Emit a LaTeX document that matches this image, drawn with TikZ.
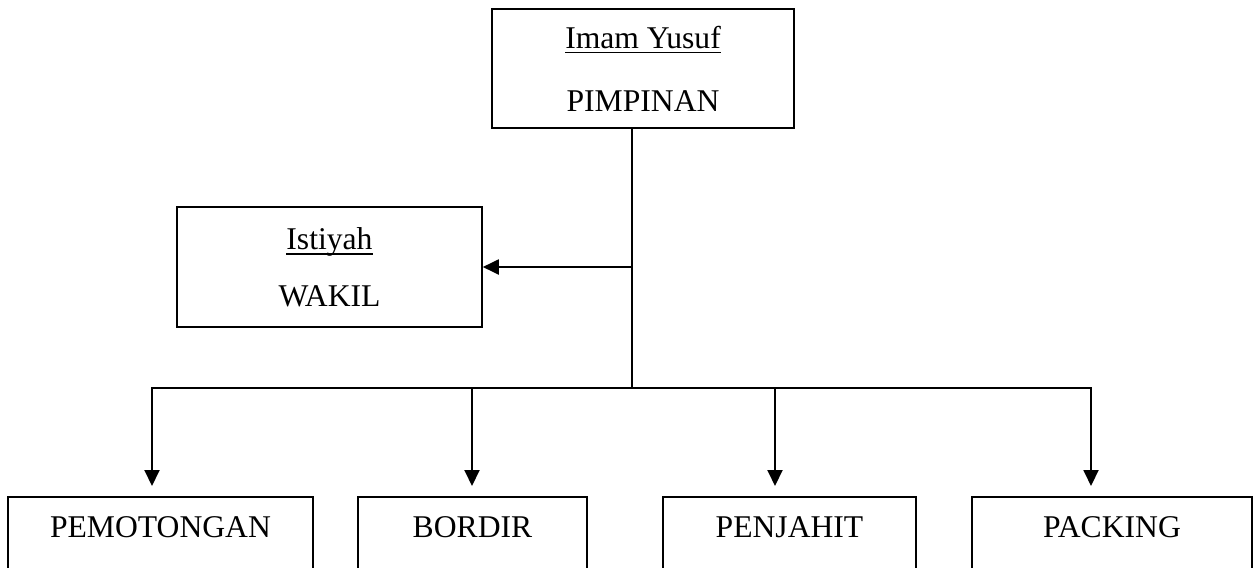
\documentclass[tikz,border=0pt]{standalone}
\usepackage{fontspec}
\setmainfont{Liberation Serif}
\usetikzlibrary{arrows.meta,positioning,calc}
\newcommand{\garis}[1]{\setbox0=\hbox{#1}\rlap{\rule[-3pt]{\wd0}{1pt}}\box0}
\tikzset{
  kotak/.style={draw=black, line width=0.9pt, align=center, inner sep=0pt,
                font=\fontsize{18}{21.6}\selectfont},
  divisi/.style={kotak, anchor=north, text height=0.82cm, text depth=0.8cm},
  hubung/.style={black, line width=1.1pt, line cap=rect},
  panah/.style={-{Triangle[length=0.32cm,width=0.3cm]}, black, line width=1.1pt},
}
\begin{document}
\begin{tikzpicture}
 \useasboundingbox (0,0) rectangle (25.12,-11.34);
 \clip (0,0) rectangle (25.12,-11.34);
 % pimpinan dan wakil
 \node[kotak, minimum width=6.04cm, minimum height=2.38cm] (pimpinan) at (12.86,-1.37)
   {\garis{Imam Yusuf}\\[0.5cm]PIMPINAN};
 \node[kotak, minimum width=6.1cm, minimum height=2.4cm] (wakil) at (6.59,-5.34)
   {\garis{Istiyah}\\[0.38cm]WAKIL};
 % divisi
 \node[divisi, minimum width=6.1cm]  (potong)  at (3.21,-9.92)  {PEMOTONGAN};
 \node[divisi, minimum width=4.58cm] (bordir)  at (9.45,-9.92)  {BORDIR};
 \node[divisi, minimum width=5.06cm] (jahit)   at (15.79,-9.92) {PENJAHIT};
 \node[divisi, minimum width=5.6cm]  (packing) at (22.24,-9.92) {PACKING};
 % garis
 \coordinate (cabang) at (12.64,-7.76);
 \draw[hubung] (cabang |- pimpinan.south) -- (cabang);
 \draw[panah] (cabang |- wakil.east) -- (wakil.east);
 \draw[hubung] (3.04,-7.76) -- (21.82,-7.76);
 \foreach \nm/\xx in {potong/3.04, bordir/9.44, jahit/15.5, packing/21.82}
   \draw[panah, shorten >=0.2cm] (\xx,-7.76) -- (\xx,-7.76 |- \nm.north);
\end{tikzpicture}
\end{document}
